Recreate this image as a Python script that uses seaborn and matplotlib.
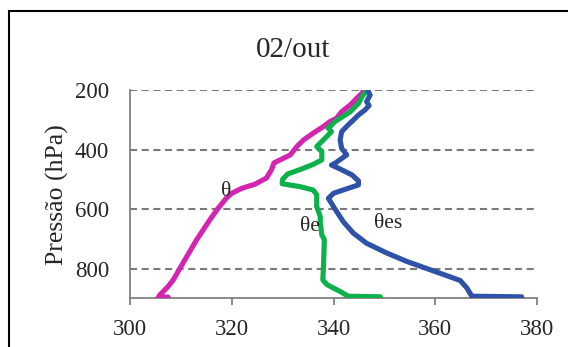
import numpy as np
import pandas as pd
import matplotlib
matplotlib.use("Agg")
import matplotlib.pyplot as plt
import matplotlib.patches as patches
import seaborn as sns

# theta profile (K) vs pressure (hPa), top -> bottom
theta_p = [202, 211, 222, 250, 273, 295, 306, 323, 345, 368, 390, 418, 435, 445,
           468, 496, 517, 530, 547, 564, 600, 636, 703, 770, 838, 860, 888, 895, 896]
theta_k = [345.9, 345.6, 344.9, 343.3, 341.6, 340.6, 339.3, 338.0, 336.0, 334.1, 332.8,
           331.5, 329.5, 328.3, 327.8, 326.8, 324.5, 322.0, 320.0, 318.9, 317.2, 315.7,
           313.1, 310.8, 308.5, 307.5, 305.9, 305.6, 307.5]

# theta-e
thetae_p = [203, 222, 245, 273, 295, 306, 323, 327, 340, 368, 390, 407, 435, 450, 467,
            482, 500, 515, 525, 536, 552, 592, 625, 647, 687, 703, 804, 838, 854, 877,
            893, 895]
thetae_k = [346.5, 345.6, 344.9, 343.3, 341.3, 340.3, 339.3, 338.9, 339.6, 338.0, 336.7,
            337.7, 337.7, 336.0, 333.5, 331.0, 330.0, 329.9, 333.5, 336.0, 336.7, 336.7,
            337.4, 337.4, 337.7, 338.2, 338.0, 337.9, 338.7, 341.3, 342.9, 349.2]

# theta-es
thetaes_p = [203, 217, 239, 252, 267, 284, 301, 317, 340, 368, 396, 418, 446, 452, 468, 485,
             505, 519, 536, 547, 564, 592, 642, 681, 715, 748, 776, 804, 840, 865, 893, 895]
thetaes_k = [346.8, 347.2, 346.5, 347.0, 346.2, 344.9, 343.9, 342.9, 341.6, 341.3, 341.6,
             342.6, 340.3, 339.6, 341.6, 343.6, 344.9, 344.9, 341.9, 340.0, 339.0, 340.0,
             341.9, 343.9, 346.5, 350.5, 354.4, 359.0, 364.9, 366.2, 367.2, 377.0]

series_names = ["θ", "θe", "θes"]
series_colors = ["#D424B0", "#0DB14B", "#2E52A8"]
label_x = [318.9, 335.4, 350.8]
label_p = [541, 659, 647]

x_ticks = [300, 320, 340, 360, 380]
y_ticks = [200, 400, 600, 800]

frames = []
for name, p, k in zip(series_names, [theta_p, thetae_p, thetaes_p],
                      [theta_k, thetae_k, thetaes_k]):
    frames.append(pd.DataFrame({"temp": k, "pres": p, "var": name}))
df = pd.concat(frames, ignore_index=True)

sns.set_style("white")
plt.rcParams["font.family"] = ["Liberation Serif", "DejaVu Serif"]

fig = plt.figure(figsize=(5.68, 3.47), dpi=100)
ax = fig.add_axes([0.2289, 0.1403, 0.9454 - 0.2289, 0.7406 - 0.1403])

for name, color in zip(series_names, series_colors):
    sub = df[df["var"] == name]
    sns.lineplot(data=sub, x="temp", y="pres", sort=False, estimator=None,
                 color=color, linewidth=3.7, ax=ax, solid_capstyle="round",
                 solid_joinstyle="round", zorder=3)

ax.set_xlim(300, 380)
ax.set_ylim(900, 200)
ax.set_xticks(x_ticks)
ax.set_yticks(y_ticks)
ax.tick_params(axis="x", length=5, width=1.3, color="#808080", labelsize=16.5, pad=10,
               direction="out", bottom=True)
ax.tick_params(axis="y", length=0, labelsize=16.5, pad=15)
ax.set_xlabel("")
ax.set_ylabel("Pressão (hPa)", fontsize=18.5, labelpad=4)

for side in ["top", "right"]:
    ax.spines[side].set_visible(False)
for side in ["left", "bottom"]:
    ax.spines[side].set_color("#808080")
    ax.spines[side].set_linewidth(1.3)

ax.yaxis.grid(True, color="#7a7a7a", linewidth=1.5, linestyle=(0, (3.4, 2.2)))
ax.xaxis.grid(False)
ax.set_axisbelow(True)

for name, lx, lp in zip(series_names, label_x, label_p):
    ax.text(lx, lp, name, fontsize=15.5, ha="center", va="center")

fig.text(0.516, 0.857, "02/out", fontsize=21, ha="center", va="center")

border = patches.Rectangle((9 / 568, -0.5), 2.0, 0.5 + 1 - 11 / 347, transform=fig.transFigure,
                           fill=False, edgecolor="black", linewidth=1.5, clip_on=False)
fig.patches.append(border)

fig.savefig("out.png", dpi=100)
